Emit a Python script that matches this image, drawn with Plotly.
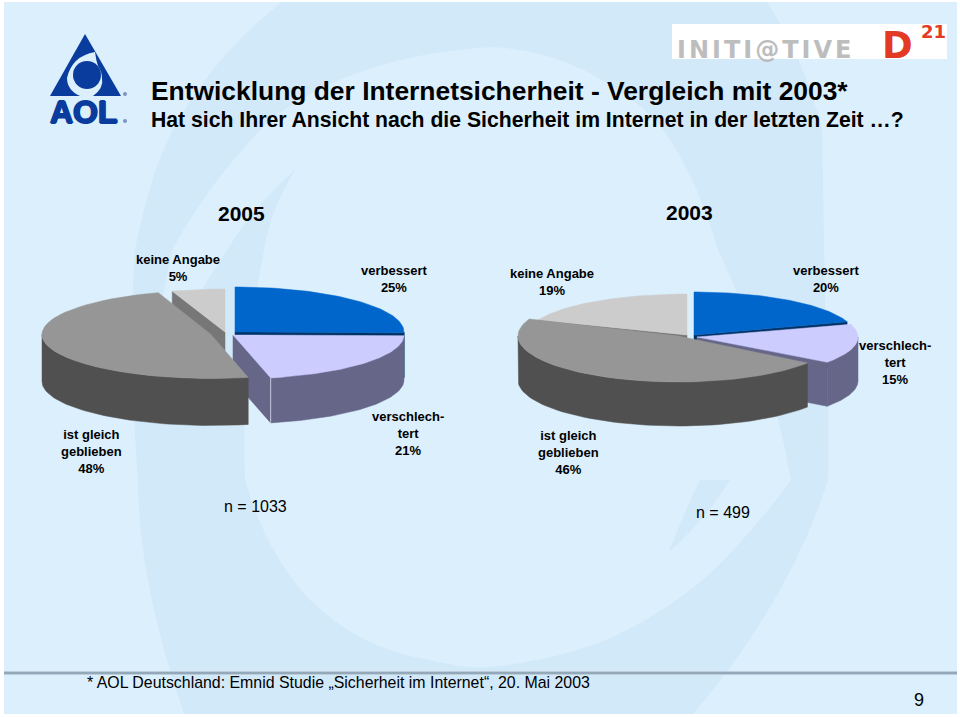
import numpy as np
import plotly.graph_objects as go

# ---- data ----
categories = ["verbessert", "verschlechtert", "ist gleich geblieben", "keine Angabe"]
values_2005 = [25, 21, 48, 5]
values_2003 = [20, 15, 46, 19]

title_text = "Entwicklung der Internetsicherheit - Vergleich mit 2003*"
subtitle_text = "Hat sich Ihrer Ansicht nach die Sicherheit im Internet in der letzten Zeit …?"
footnote_text = "* AOL Deutschland: Emnid Studie „Sicherheit im Internet“, 20. Mai 2003"

TOP = ["#0066cc", "#ccccff", "#969696", "#cccccc"]
RAD = ["#003366", "#666688", "#505050", "#777777"]
OUT = ["#003366", "#666688", "#505050", "#777777"]

# exploded slice placement: (cx, cy, rx, ry, depth) per category
geom_2005 = [(235, 332, 169, 45, 45), (233, 335, 171, 44, 45), (211, 334.5, 169, 44, 47), (225, 332, 169, 43, 40)]
geom_2003 = [(694, 335, 161, 43, 44), (697, 337, 161, 43, 44), (678, 336, 160, 46, 44), (687, 335, 160, 41, 40)]


def angles(values):
    total = sum(values)
    edges = np.cumsum([0] + list(values)) / total * 2 * np.pi
    return list(zip(edges[:-1], edges[1:]))


def rim(g, a, b, n=60):
    t = np.linspace(a, b, n)
    return g[0] + g[2] * np.sin(t), g[1] - g[3] * np.cos(t)


def poly(fig, xs, ys, color):
    fig.add_trace(go.Scatter(x=list(xs), y=list(ys), mode="lines", fill="toself", fillcolor=color,
                             line=dict(width=0.5, color=color), hoverinfo="skip", showlegend=False))


def slice_parts(fig, g, a, b, i, radial_edge):
    x, y = rim(g, a, b)
    cx, cy, d = g[0], g[1], g[4]
    # radial wall
    if radial_edge is not None:
        rx_, ry_ = rim(g, radial_edge, radial_edge, 1)
        poly(fig, [cx, rx_[0], rx_[0], cx, cx], [cy, ry_[0], ry_[0] + d, cy + d, cy], RAD[i])
    # outer wall
    lo, hi = max(a, np.pi / 2), min(b, 3 * np.pi / 2)
    if hi > lo:
        ox, oy = rim(g, lo, hi)
        poly(fig, np.r_[ox, ox[::-1], ox[0]], np.r_[oy, oy[::-1] + d, oy[0]], OUT[i])
    # top face
    poly(fig, np.r_[cx, x, cx], np.r_[cy, y, cy], TOP[i])


fig = go.Figure()

# 2005
ang = angles(values_2005)
slice_parts(fig, geom_2005[0], *ang[0], 0, ang[0][1])
slice_parts(fig, geom_2005[1], *ang[1], 1, ang[1][1])
ex, ey = rim(geom_2005[1], ang[1][1], ang[1][1], 1)
fig.add_trace(go.Scatter(x=[ex[0], ex[0]], y=[ey[0], ey[0] + geom_2005[1][4]], mode="lines",
                         line=dict(width=1, color="#c4c4dc"), hoverinfo="skip", showlegend=False))
slice_parts(fig, geom_2005[3], *ang[3], 3, ang[3][0])
slice_parts(fig, geom_2005[2], *ang[2], 2, None)

# 2003
ang = angles(values_2003)
slice_parts(fig, geom_2003[0], *ang[0], 0, ang[0][1])
slice_parts(fig, geom_2003[3], *ang[3], 3, ang[3][0])
slice_parts(fig, geom_2003[1], *ang[1], 1, ang[1][1])
slice_parts(fig, geom_2003[2], *ang[2], 2, None)

# ---- texts ----
SANS = "Liberation Sans"


def label(x, y, text, size=13, bold=True, anchor="center", color="#000000", family=SANS, shadow=None):
    font = dict(family=family, size=size, color=color)
    if shadow:
        font["shadow"] = shadow
    fig.add_annotation(x=x, y=y, text=f"<b>{text}</b>" if bold else text, showarrow=False,
                       xanchor=anchor, yanchor="middle", align="center", font=font)


label(149, 91, title_text, 26.4, anchor="left")
label(149, 119, subtitle_text, 21.2, anchor="left")
label(241, 213, "2005", 21)
label(689, 212, "2003", 21)
label(178, 268, f"keine Angabe<br>{values_2005[3]}%")
label(394, 279, f"verbessert<br>{values_2005[0]}%")
label(408, 433, f"verschlech-<br>tert<br>{values_2005[1]}%")
label(91, 451, f"ist gleich<br>geblieben<br>{values_2005[2]}%")
label(552, 282, f"keine Angabe<br>{values_2003[3]}%")
label(826, 279, f"verbessert<br>{values_2003[0]}%")
label(895, 362, f"verschlech-<br>tert<br>{values_2003[1]}%")
label(568, 452, f"ist gleich<br>geblieben<br>{values_2003[2]}%")
label(255, 506, "n = 1033", 16, bold=False)
label(723, 512, "n = 499", 16, bold=False)
label(85, 682, footnote_text, 15.9, bold=False, anchor="left")
label(919, 700, "9", 18, bold=False)

# logos as text
BLUE = "#0a3c9e"
label(84, 112, "AOL", 32, color=BLUE, shadow=f"1px 0 0 {BLUE}, -1px 0 0 {BLUE}, 0 1px 0 {BLUE}, 0 -1px 0 {BLUE}")
label(766, 50, "INITI@TIVE", 24, color="#bdbdbd", family="DejaVu Sans")
label(897, 45, "D", 37, color="#e23a24", family="DejaVu Sans")
label(933, 31, "21", 18, color="#e23a24", family="DejaVu Sans")

# ---- background & logo decoration ----
LIGHT = "#dbeffc"
DARK = "#d2e9fa"
shapes = [
    dict(type="rect", x0=4, y0=2, x1=957, y1=714, fillcolor=LIGHT, line_width=0, layer="below"),
    # C-shaped darker swoosh
    dict(type="path", path="M282,2 L767,2 Q805,60 822,130 L825,300 Q830,400 828,480 Q790,600 693,714 L184,714 "
                           "Q138,580 138,480 Q128,340 135,250 Q150,170 178,120 Q220,50 282,2 Z",
         fillcolor=DARK, line_width=0, layer="below"),
    # lighter dome
    dict(type="path", path="M491,47 Q355,55 270,120 Q210,180 172,250 Q155,330 150,400 Q180,320 227,250 Q255,205 295,170 "
                           "Q270,210 264,250 Q240,370 245,480 Q265,550 307,597 Q360,650 430,660 Q470,670 490,667 "
                           "Q560,660 613,637 Q690,600 736,547 Q770,510 791,480 Q770,360 718,250 Q695,170 656,120 Q580,50 491,47 Z",
         fillcolor=LIGHT, line_width=0, layer="below"),
    dict(type="path", path="M669,552 Q685,510 700,480 L730,480 Q705,520 669,552 Z", fillcolor=DARK, line_width=0, layer="below"),
    # footer rule
    dict(type="rect", x0=4, y0=671, x1=957, y1=675, fillcolor="#bccddb", line_width=0, layer="below"),
    dict(type="rect", x0=4, y0=672, x1=957, y1=674, fillcolor="#93a8b9", line_width=0, layer="below"),
    # logos
    dict(type="rect", x0=672, y0=24, x1=947, y1=59, fillcolor="#ffffff", line_width=0, layer="below"),
    dict(type="path", path="M85,34 L121,96 L50,96 Z", fillcolor=BLUE, line_width=0, layer="below"),
    dict(type="path", path="M95,52 Q72,56 67,78 Q67,90 80,96 L93,96 Q104,88 102,78 Q102,72 98,66 Q96,60 95,52 Z",
         fillcolor=LIGHT, line_width=0, layer="below"),
    dict(type="circle", x0=73, y0=61, x1=101, y1=89, fillcolor=BLUE, line_width=0, layer="below"),
    dict(type="circle", x0=123, y0=92, x1=127, y1=96, fillcolor="#7d93c4", line_width=0, layer="below"),
    dict(type="circle", x0=123, y0=119, x1=127, y1=123, fillcolor="#7d93c4", line_width=0, layer="below"),
]

fig.update_layout(
    width=960, height=717, margin=dict(l=0, r=0, t=0, b=0),
    paper_bgcolor="#ffffff", plot_bgcolor="rgba(0,0,0,0)",
    showlegend=False, shapes=shapes,
    xaxis=dict(range=[0, 960], visible=False, fixedrange=True),
    yaxis=dict(range=[717, 0], visible=False, fixedrange=True),
)

post = """
document.body.style.margin='0';document.body.style.overflow='hidden';
document.querySelectorAll('.annotation-text').forEach(function(t){
  if(t.textContent==='INITI@TIVE'){t.style.letterSpacing='3px';}
});
"""
fig.write_html("out.html", config={"displayModeBar": False}, post_script=post)
